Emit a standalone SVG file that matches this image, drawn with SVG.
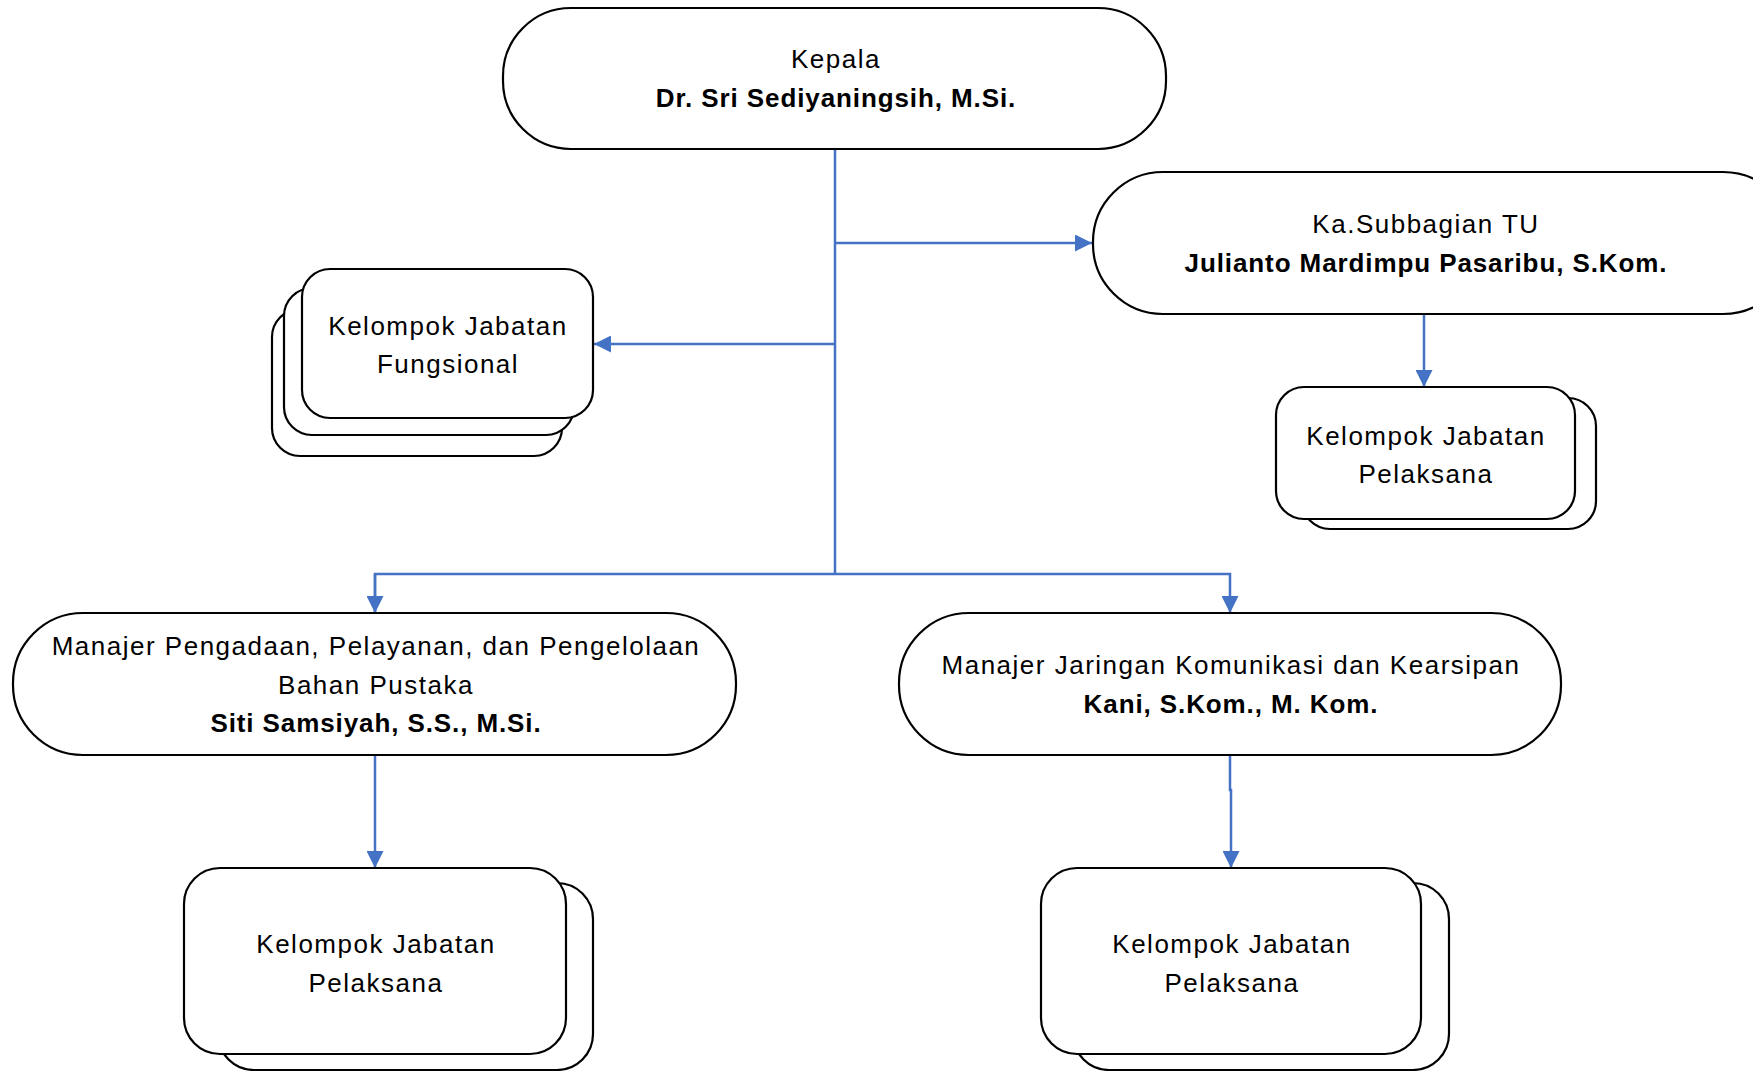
<svg xmlns="http://www.w3.org/2000/svg" width="1753" height="1071" viewBox="0 0 1753 1071">
<style>
.box{fill:#fff;stroke:#000;stroke-width:2.2}
.t{font-family:"Liberation Sans",Arial,sans-serif;font-size:26px;letter-spacing:1.5px;fill:#000;text-anchor:middle}
.b{font-weight:bold;letter-spacing:0.9px}
.c{fill:none;stroke:#4472C4;stroke-width:2.5}
</style>
<defs>
<marker id="a" viewBox="0 0 16 16" refX="16" refY="8" markerWidth="17" markerHeight="17" orient="auto" markerUnits="userSpaceOnUse">
<path d="M0,0 L16,8 L0,16 z" fill="#4472C4"/>
</marker>
</defs>
<g id="connectors">
<path class="c" d="M835,149 V574"/>
<path class="c" d="M835,243 H1092" marker-end="url(#a)"/>
<path class="c" d="M835,344 H594" marker-end="url(#a)"/>
<path class="c" d="M375,613 V574 H1230 V613" marker-end="url(#a)"/>
<path class="c" d="M375,574 V613" marker-end="url(#a)"/>
<path class="c" d="M1424,314 V387" marker-end="url(#a)"/>
<path class="c" d="M375,755 V868" marker-end="url(#a)"/>
<path class="c" d="M1230,755 V790 H1231 V868" marker-end="url(#a)"/>
</g>
<g id="kepala">
<rect class="box" x="503" y="8" width="663" height="141" rx="68"/>
<text class="t" x="836" y="68">Kepala</text>
<text class="t b" x="836" y="107">Dr. Sri Sediyaningsih, M.Si.</text>
</g>
<g id="subbagian">
<rect class="box" x="1093" y="172" width="700" height="142" rx="70"/>
<text class="t" x="1426" y="233">Ka.Subbagian TU</text>
<text class="t b" x="1426" y="272">Julianto Mardimpu Pasaribu, S.Kom.</text>
</g>
<g id="fungsional">
<rect class="box" x="272" y="309" width="290" height="147" rx="28"/>
<rect class="box" x="284" y="288" width="290" height="147" rx="28"/>
<rect class="box" x="302" y="269" width="291" height="149" rx="28"/>
<text class="t" x="448" y="335">Kelompok Jabatan</text>
<text class="t" x="448" y="373">Fungsional</text>
</g>
<g id="pelaksana-tu">
<rect class="box" x="1302" y="398" width="294" height="131" rx="28"/>
<rect class="box" x="1276" y="387" width="299" height="132" rx="28"/>
<text class="t" x="1426" y="445">Kelompok Jabatan</text>
<text class="t" x="1426" y="483">Pelaksana</text>
</g>
<g id="manajer-pengadaan">
<rect class="box" x="13" y="613" width="723" height="142" rx="70"/>
<text class="t" x="376" y="655">Manajer Pengadaan, Pelayanan, dan Pengelolaan</text>
<text class="t" x="376" y="694">Bahan Pustaka</text>
<text class="t b" x="376" y="732">Siti Samsiyah, S.S., M.Si.</text>
</g>
<g id="manajer-jaringan">
<rect class="box" x="899" y="613" width="662" height="142" rx="70"/>
<text class="t" x="1231" y="674">Manajer Jaringan Komunikasi dan Kearsipan</text>
<text class="t b" x="1231" y="713">Kani, S.Kom., M. Kom.</text>
</g>
<g id="pelaksana-pengadaan">
<rect class="box" x="218" y="883" width="375" height="187" rx="36"/>
<rect class="box" x="184" y="868" width="382" height="186" rx="36"/>
<text class="t" x="376" y="953">Kelompok Jabatan</text>
<text class="t" x="376" y="992">Pelaksana</text>
</g>
<g id="pelaksana-jaringan">
<rect class="box" x="1073" y="883" width="376" height="187" rx="36"/>
<rect class="box" x="1041" y="868" width="380" height="186" rx="36"/>
<text class="t" x="1232" y="953">Kelompok Jabatan</text>
<text class="t" x="1232" y="992">Pelaksana</text>
</g>
</svg>
